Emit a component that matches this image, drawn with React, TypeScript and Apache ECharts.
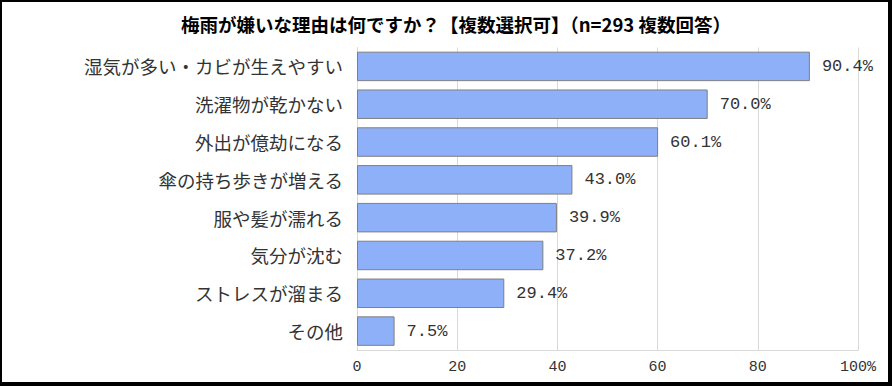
import React, { useEffect, useRef } from "react";
import * as echarts from "echarts";

const categories = [
  "湿気が多い・カビが生えやすい",
  "洗濯物が乾かない",
  "外出が億劫になる",
  "傘の持ち歩きが増える",
  "服や髪が濡れる",
  "気分が沈む",
  "ストレスが溜まる",
  "その他",
];
const values = [90.4, 70.0, 60.1, 43.0, 39.9, 37.2, 29.4, 7.5];
const titleText = "梅雨が嫌いな理由は何ですか？【複数選択可】（n=293 複数回答）";

export default function App() {
  const ref = useRef<HTMLDivElement>(null);
  useEffect(() => {
    if (!ref.current) return;
    const chart = echarts.init(ref.current, undefined, { renderer: "svg" });
    chart.setOption({
      animation: false,
      backgroundColor: "#ffffff",
      title: {
        text: titleText,
        left: 174,
        top: 8,
        textStyle: {
          fontFamily: "Noto Sans CJK JP",
          fontSize: 18.5,
          fontWeight: "bold",
          color: "#000000",
        },
      },
      grid: { left: 355, right: 30, top: 45.5, bottom: 32, containLabel: false },
      xAxis: {
        type: "value",
        min: 0,
        max: 100,
        interval: 20,
        axisLine: { show: true, lineStyle: { color: "#d9d9d9", width: 1 } },
        axisTick: { show: false },
        splitLine: { show: true, lineStyle: { color: "#d9d9d9", width: 1 } },
        axisLabel: {
          margin: 10,
          fontFamily: "Liberation Mono",
          fontSize: 15,
          color: "#333333",
          formatter: (v: number) => (v === 100 ? "100%" : String(v)),
        },
      },
      yAxis: {
        type: "category",
        inverse: true,
        data: categories,
        axisLine: { show: true, lineStyle: { color: "#d9d9d9", width: 1 } },
        axisTick: { show: false },
        axisLabel: {
          margin: 14,
          fontFamily: "Noto Sans CJK JP",
          fontSize: 18.5,
          color: "#333333",
        },
      },
      series: [
        {
          type: "bar",
          data: values,
          barCategoryGap: "22%",
          itemStyle: { color: "#8eb0f8", borderColor: "#7f7f7f", borderWidth: 1 },
          label: {
            show: true,
            position: "right",
            distance: 12,
            fontFamily: "Liberation Mono",
            fontSize: 17,
            color: "#333333",
            formatter: (p: any) => p.value.toFixed(1) + "%",
          },
        },
      ],
    });
    return () => chart.dispose();
  }, []);
  return (
    <div style={{ position: "fixed", left: 0, top: 0, width: 892, height: 386, background: "#000" }}>
      <div
        ref={ref}
        style={{ position: "absolute", left: 2, top: 2, width: 886, height: 380, background: "#fff" }}
      />
    </div>
  );
}
